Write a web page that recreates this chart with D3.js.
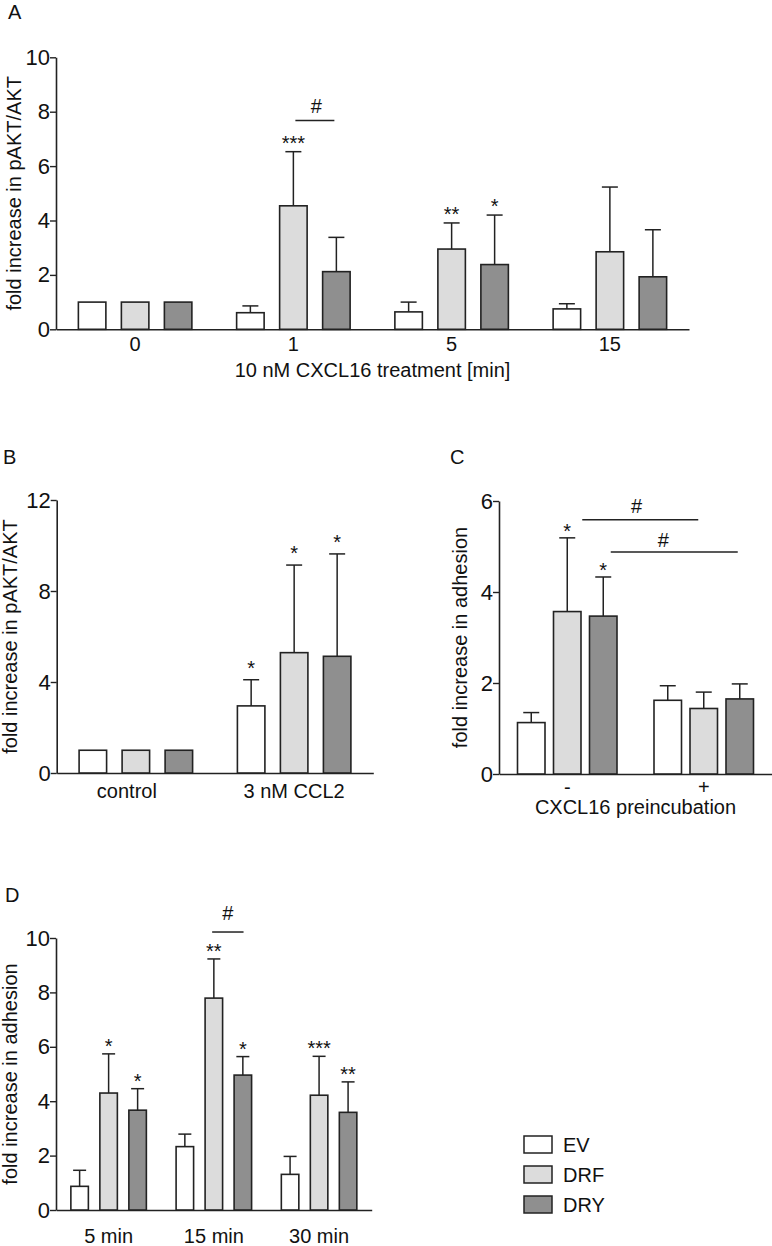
<!DOCTYPE html>
<html><head><meta charset="utf-8">
<script src="https://cdn.jsdelivr.net/npm/d3@7/dist/d3.min.js"></script>
<style>
html,body{margin:0;padding:0;background:#fff;}
svg text{font-family:"Liberation Sans",Arial,Helvetica,sans-serif;fill:#111;}
</style></head>
<body>
<svg id="chart" width="772" height="1246"></svg>
<script>
// ---------- DATA ----------
const seriesNames = ["EV", "DRF", "DRY"];

// Panel A
const catsA = ["0", "1", "5", "15"];
const ticksA = [0, 2, 4, 6, 8, 10];
const A_EV = [1.0, 0.61, 0.64, 0.75];
const A_EV_sd = [0, 0.25, 0.36, 0.19];
const A_DRF = [1.0, 4.54, 2.95, 2.85];
const A_DRF_sd = [0, 1.99, 0.96, 2.38];
const A_DRY = [1.0, 2.12, 2.38, 1.93];
const A_DRY_sd = [0, 1.26, 1.82, 1.73];
const A_EV_sig = ["", "", "", ""];
const A_DRF_sig = ["", "***", "**", ""];
const A_DRY_sig = ["", "", "*", ""];
const A_brackets = [{from: [1, 1], to: [1, 2], y: 7.68, label: "#"}];

// Panel B
const catsB = ["control", "3 nM CCL2"];
const ticksB = [0, 4, 8, 12];
const B_EV = [1.0, 2.95];
const B_EV_sd = [0, 1.15];
const B_DRF = [1.0, 5.29];
const B_DRF_sd = [0, 3.85];
const B_DRY = [1.0, 5.13];
const B_DRY_sd = [0, 4.5];
const B_EV_sig = ["", "*"];
const B_DRF_sig = ["", "*"];
const B_DRY_sig = ["", "*"];

// Panel C
const catsC = ["-", "+"];
const ticksC = [0, 2, 4, 6];
const C_EV = [1.13, 1.62];
const C_EV_sd = [0.22, 0.32];
const C_DRF = [3.57, 1.44];
const C_DRF_sd = [1.62, 0.36];
const C_DRY = [3.47, 1.65];
const C_DRY_sd = [0.86, 0.33];
const C_EV_sig = ["", ""];
const C_DRF_sig = ["*", ""];
const C_DRY_sig = ["*", ""];
const C_brackets = [
  {from: [0, 1], to: [1, 1], y: 5.59, label: "#"},
  {from: [0, 2], to: [1, 2], y: 4.88, label: "#"}
];

// Panel D
const catsD = ["5 min", "15 min", "30 min"];
const ticksD = [0, 2, 4, 6, 8, 10];
const D_EV = [0.87, 2.33, 1.31];
const D_EV_sd = [0.59, 0.46, 0.66];
const D_DRF = [4.3, 7.79, 4.22];
const D_DRF_sd = [1.44, 1.44, 1.43];
const D_DRY = [3.67, 4.96, 3.59];
const D_DRY_sd = [0.79, 0.68, 1.12];
const D_EV_sig = ["", "", ""];
const D_DRF_sig = ["*", "**", "***"];
const D_DRY_sig = ["*", "*", "**"];
const D_brackets = [{from: [1, 1], to: [1, 2], y: 10.22, label: "#"}];

// ---------- STYLE ----------
const fills = ["#ffffff", "#dcdcdc", "#8f8f8f"];
const ink = "#222";
const FS = 20;
const FS_TICK = 22;

const svg = d3.select("#chart");

function panel(cfg) {
  const g = svg.append("g");
  const y = d3.scaleLinear().domain([0, cfg.ymax]).range([cfg.y0, cfg.yTop]);
  const x = d3.scaleBand().domain(cfg.cats).range([cfg.x0, cfg.x1]).padding(0);

  // y axis
  const ya = g.append("g").attr("transform", `translate(${cfg.x0},0)`)
    .call(d3.axisLeft(y).tickValues(cfg.ticks).tickSize(6).tickPadding(0).tickSizeOuter(0).tickFormat(d3.format("d")));
  ya.select(".domain").attr("stroke", ink).attr("stroke-width", 1.6);
  ya.selectAll(".tick line").attr("stroke", ink).attr("stroke-width", 1.4);
  ya.selectAll(".tick text").attr("font-size", FS_TICK).attr("fill", "#111")
    .style("font-family", '"Liberation Sans",Arial,sans-serif');

  // x axis
  const xa = g.append("g").attr("transform", `translate(0,${cfg.y0})`)
    .call(d3.axisBottom(x).tickSize(0).tickPadding(cfg.xPad).tickSizeOuter(0));
  xa.select(".domain").attr("stroke", ink).attr("stroke-width", 1.6);
  xa.selectAll(".tick text").attr("font-size", FS).attr("fill", "#111")
    .style("font-family", '"Liberation Sans",Arial,sans-serif')
    .attr("dx", (d, i) => (cfg.xLabelDx ? cfg.xLabelDx[i] : 0));

  const cx = (j, i) => x(cfg.cats[j]) + x.bandwidth() / 2 + (i - 1) * cfg.step;

  cfg.series.forEach((s, i) => {
    const data = s.vals.map((v, j) => ({v, sd: s.sd[j], sig: s.sig[j], j}));
    // bars
    g.selectAll(null).data(data).enter().append("rect")
      .attr("x", d => cx(d.j, i) - cfg.bw / 2)
      .attr("y", d => y(d.v))
      .attr("width", cfg.bw)
      .attr("height", d => cfg.y0 - y(d.v))
      .attr("fill", fills[i]).attr("stroke", ink).attr("stroke-width", 1.6);
    // error bars (upper only)
    const e = data.filter(d => d.sd > 0);
    g.selectAll(null).data(e).enter().append("line")
      .attr("x1", d => cx(d.j, i)).attr("x2", d => cx(d.j, i))
      .attr("y1", d => y(d.v)).attr("y2", d => y(d.v + d.sd))
      .attr("stroke", ink).attr("stroke-width", 1.5);
    g.selectAll(null).data(e).enter().append("line")
      .attr("x1", d => cx(d.j, i) - cfg.cap / 2).attr("x2", d => cx(d.j, i) + cfg.cap / 2)
      .attr("y1", d => y(d.v + d.sd)).attr("y2", d => y(d.v + d.sd))
      .attr("stroke", ink).attr("stroke-width", 1.5);
    // significance stars
    g.selectAll(null).data(data.filter(d => d.sig)).enter().append("text")
      .attr("x", d => cx(d.j, i))
      .attr("y", d => y(d.v + d.sd) - cfg.starGap)
      .attr("text-anchor", "middle").attr("font-size", FS)
      .text(d => d.sig);
  });

  // brackets
  (cfg.brackets || []).forEach((b, k) => {
    const st = cfg.bracketStyle[k];
    const xa1 = cx(b.from[0], b.from[1]) + st.d1;
    const xa2 = cx(b.to[0], b.to[1]) + st.d2;
    const yy = y(b.y);
    g.append("line").attr("x1", xa1).attr("x2", xa2).attr("y1", yy).attr("y2", yy)
      .attr("stroke", ink).attr("stroke-width", 1.5);
    g.append("text").attr("x", (xa1 + xa2) / 2 + st.ldx).attr("y", yy - st.gap)
      .attr("text-anchor", "middle").attr("font-size", FS).text(b.label);
  });

  // y label
  g.append("text")
    .attr("transform", `translate(${cfg.yLabelX},${(cfg.y0 + cfg.yTop) / 2}) rotate(-90)`)
    .attr("text-anchor", "middle").attr("font-size", FS).text(cfg.yLabel);
  // x title
  if (cfg.xTitle) {
    g.append("text").attr("x", (cfg.x0 + cfg.x1) / 2).attr("y", cfg.xTitleY)
      .attr("text-anchor", "middle").attr("font-size", FS).text(cfg.xTitle);
  }
  // panel letter
  g.append("text").attr("x", cfg.letterX).attr("y", cfg.letterY)
    .attr("font-size", FS).text(cfg.letter);
}

panel({
  letter: "A", letterX: 8, letterY: 18.5,
  cats: catsA, ticks: ticksA, ymax: 10,
  x0: 56, x1: 689, y0: 329.3, yTop: 57.3,
  bw: 27.5, step: 43, cap: 16, starGap: 2, xPad: 8,
  series: [
    {vals: A_EV, sd: A_EV_sd, sig: A_EV_sig},
    {vals: A_DRF, sd: A_DRF_sd, sig: A_DRF_sig},
    {vals: A_DRY, sd: A_DRY_sd, sig: A_DRY_sig}
  ],
  brackets: A_brackets, bracketStyle: [{d1: 2, d2: -2, ldx: 1.5, gap: 7.5}],
  yLabel: "fold increase in pAKT/AKT", yLabelX: 21,
  xTitle: "10 nM CXCL16 treatment [min]", xTitleY: 376.5
});

panel({
  letter: "B", letterX: 3, letterY: 464,
  cats: catsB, ticks: ticksB, ymax: 12,
  x0: 56.7, x1: 373.3, y0: 773, yTop: 500,
  bw: 27.5, step: 43, cap: 16, starGap: 5, xPad: 11, xLabelDx: [-9, 0],
  series: [
    {vals: B_EV, sd: B_EV_sd, sig: B_EV_sig},
    {vals: B_DRF, sd: B_DRF_sd, sig: B_DRF_sig},
    {vals: B_DRY, sd: B_DRY_sd, sig: B_DRY_sig}
  ],
  yLabel: "fold increase in pAKT/AKT", yLabelX: 17
});

panel({
  letter: "C", letterX: 450, letterY: 464,
  cats: catsC, ticks: ticksC, ymax: 6,
  x0: 499, x1: 772, y0: 774, yTop: 501,
  bw: 27.5, step: 36, cap: 16, starGap: 0, xPad: 6,
  series: [
    {vals: C_EV, sd: C_EV_sd, sig: C_EV_sig},
    {vals: C_DRF, sd: C_DRF_sd, sig: C_DRF_sig},
    {vals: C_DRY, sd: C_DRY_sd, sig: C_DRY_sig}
  ],
  brackets: C_brackets,
  bracketStyle: [{d1: 15, d2: -5.5, ldx: -3.6, gap: 6.4}, {d1: 7.5, d2: -2, ldx: -11, gap: 5.3}],
  yLabel: "fold increase in adhesion", yLabelX: 467,
  xTitle: "CXCL16 preincubation", xTitleY: 814
});

panel({
  letter: "D", letterX: 5, letterY: 901.5,
  cats: catsD, ticks: ticksD, ymax: 10,
  x0: 56, x1: 371.7, y0: 1210, yTop: 938,
  bw: 17.5, step: 29, cap: 13, starGap: 1, xPad: 18.5,
  series: [
    {vals: D_EV, sd: D_EV_sd, sig: D_EV_sig},
    {vals: D_DRF, sd: D_DRF_sd, sig: D_DRF_sig},
    {vals: D_DRY, sd: D_DRY_sd, sig: D_DRY_sig}
  ],
  brackets: D_brackets, bracketStyle: [{d1: -1.7, d2: 0.7, ldx: 0, gap: 12}],
  yLabel: "fold increase in adhesion", yLabelX: 17
});

// legend
const leg = svg.append("g").attr("transform", "translate(524,1136)");
const li = leg.selectAll("g").data(seriesNames).enter().append("g")
  .attr("transform", (d, i) => `translate(0,${i * 30})`);
li.append("rect").attr("width", 28).attr("height", 17)
  .attr("fill", (d, i) => fills[i]).attr("stroke", ink).attr("stroke-width", 1.5);
li.append("text").attr("x", 39).attr("y", 15.5).attr("font-size", FS).text(d => d);
</script>
</body></html>
